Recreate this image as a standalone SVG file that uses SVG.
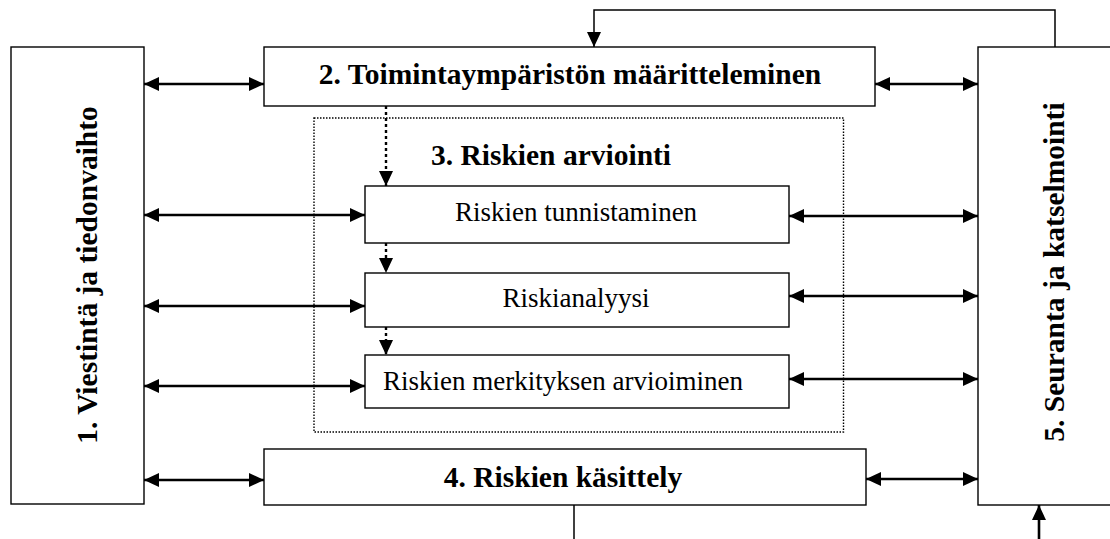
<svg xmlns="http://www.w3.org/2000/svg" width="1110" height="539" viewBox="0 0 1110 539">
  <style>
    .box { fill: #ffffff; stroke: #000000; stroke-width: 1.4; }
    .group { fill: none; stroke: #000000; stroke-width: 1.4; stroke-dasharray: 1.5 1.5; }
    .title { font-family: "Liberation Serif", "Times New Roman", serif; font-weight: bold; font-size: 29.5px; fill: #000000; text-anchor: middle; }
    .label { font-family: "Liberation Serif", "Times New Roman", serif; font-size: 27px; fill: #000000; text-anchor: middle; }
    .link { fill: none; stroke: #000000; stroke-width: 2.6; }
    .thin { fill: none; stroke: #000000; stroke-width: 1.5; }
    .dash { fill: none; stroke: #000000; stroke-width: 2.4; stroke-dasharray: 3 3; }
  </style>
  <defs>
    <marker id="head" markerUnits="userSpaceOnUse" markerWidth="15" markerHeight="14" refX="15" refY="7" orient="auto-start-reverse">
      <path d="M0,0 L15,7 L0,14 Z" fill="#000000"/>
    </marker>
  </defs>

  <rect width="1110" height="539" fill="#ffffff"/>

  <!-- 1. communication column -->
  <g id="node-viestinta">
    <rect class="box" x="11" y="47" width="133" height="457"/>
    <text class="title" transform="translate(97,275) rotate(-90)">1. Viestintä ja tiedonvaihto</text>
  </g>

  <!-- 2. context -->
  <g id="node-toimintaymparisto">
    <rect class="box" x="264" y="47" width="611" height="59"/>
    <text class="title" x="570" y="84">2. Toimintaympäristön määritteleminen</text>
  </g>

  <!-- 3. assessment group -->
  <g id="node-arviointi">
    <rect class="group" x="314" y="118" width="529.5" height="314"/>
    <text class="title" x="551" y="165">3. Riskien arviointi</text>
  </g>

  <g id="node-tunnistaminen">
    <rect class="box" x="365" y="186" width="424" height="57"/>
    <text class="label" x="576" y="221">Riskien tunnistaminen</text>
  </g>

  <g id="node-analyysi">
    <rect class="box" x="365" y="273" width="424" height="54"/>
    <text class="label" x="576" y="307">Riskianalyysi</text>
  </g>

  <g id="node-merkitys">
    <rect class="box" x="365" y="355" width="424" height="53"/>
    <text class="label" x="563" y="390">Riskien merkityksen arvioiminen</text>
  </g>

  <!-- 4. treatment -->
  <g id="node-kasittely">
    <rect class="box" x="264" y="449" width="602" height="56"/>
    <text class="title" x="563" y="487">4. Riskien käsittely</text>
  </g>

  <!-- 5. monitoring column -->
  <g id="node-seuranta">
    <rect class="box" x="978" y="47" width="140" height="458"/>
    <text class="title" transform="translate(1064,272) rotate(-90)">5. Seuranta ja katselmointi</text>
  </g>

  <g id="connectors">
    <!-- left column links -->
    <line class="link" x1="144" y1="84" x2="264" y2="84" marker-start="url(#head)" marker-end="url(#head)"/>
    <line class="link" x1="144" y1="215" x2="365" y2="215" marker-start="url(#head)" marker-end="url(#head)"/>
    <line class="link" x1="144" y1="306" x2="365" y2="306" marker-start="url(#head)" marker-end="url(#head)"/>
    <line class="link" x1="144" y1="386" x2="365" y2="386" marker-start="url(#head)" marker-end="url(#head)"/>
    <line class="link" x1="144" y1="480" x2="264" y2="480" marker-start="url(#head)" marker-end="url(#head)"/>

    <!-- right column links -->
    <line class="link" x1="875" y1="84" x2="978" y2="84" marker-start="url(#head)" marker-end="url(#head)"/>
    <line class="link" x1="789" y1="216" x2="978" y2="216" marker-start="url(#head)" marker-end="url(#head)"/>
    <line class="link" x1="789" y1="296" x2="978" y2="296" marker-start="url(#head)" marker-end="url(#head)"/>
    <line class="link" x1="789" y1="379" x2="978" y2="379" marker-start="url(#head)" marker-end="url(#head)"/>
    <line class="link" x1="866" y1="479" x2="978" y2="479" marker-start="url(#head)" marker-end="url(#head)"/>

    <!-- dotted flow through assessment -->
    <line class="dash" x1="386" y1="106" x2="386" y2="186" marker-end="url(#head)"/>
    <line class="dash" x1="386" y1="243" x2="386" y2="273" marker-end="url(#head)"/>
    <line class="dash" x1="386" y1="327" x2="386" y2="355" marker-end="url(#head)"/>

    <!-- feedback from monitoring back to context -->
    <polyline class="thin" points="1055,47 1055,10 594,10 594,47" marker-end="url(#head)"/>

    <!-- lines leaving / entering at the bottom -->
    <line class="thin" x1="574" y1="505" x2="574" y2="539" stroke-width="2"/>
    <line class="link" x1="1039" y1="539" x2="1039" y2="505" marker-end="url(#head)"/>
  </g>
</svg>
